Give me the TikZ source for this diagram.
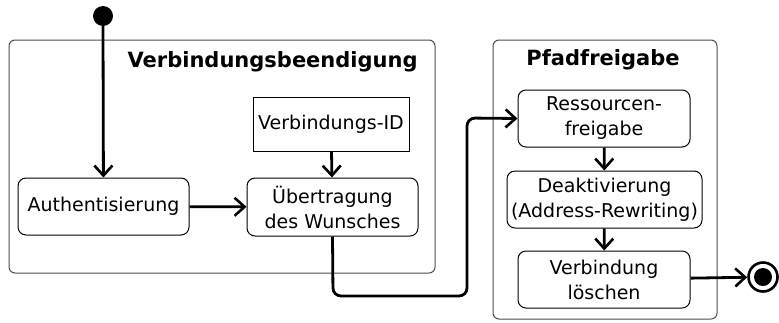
\documentclass[tikz,border=0pt]{standalone}
\usepackage{fontspec}
\setmainfont{DejaVu Sans}
\usetikzlibrary{arrows.meta, calc}

\tikzset{
	action/.style={draw, rounded corners=4pt, line width=0.5pt, align=center,
		inner sep=0pt, font=\fontsize{9.5}{12.5}\selectfont},
	objbox/.style={draw, line width=0.5pt, align=center, inner sep=0pt,
		font=\fontsize{9.5}{12.5}\selectfont},
	region/.style={draw=black!70, rounded corners=3pt, line width=0.5pt},
	flow/.style={line width=1.4pt, -{Straight Barb[length=5pt,width=9pt,line width=1.3pt]}},
	title/.style={font=\fontsize{10.5}{12}\selectfont\bfseries, inner sep=0pt}
}

\begin{document}
\begin{tikzpicture}[x=0.5pt, y=-0.5pt]
	\useasboundingbox (0,0) rectangle (779,322);

	% Bereiche
	\draw[region] (9,40) rectangle (435,273);
	\node[title, anchor=east] (t1) at (418,62) {Verbindungsbeendigung};
	\draw[region] (493,40) rectangle (717,319);
	\node[title] (t2) at (603,60) {Pfadfreigabe};

	% Start / Ende
	\fill (103,16) circle (10) coordinate (start);
	\node[circle, draw, line width=1.3pt, minimum size=14.5pt, inner sep=0pt] (ende) at (763,277) {};
	\fill (ende) circle (9);

	% Aktionen links
	\node[action, minimum width=85.5pt, minimum height=28.5pt] (auth) at (103.5,206.5) {Authentisierung};
	\node[action, minimum width=85.5pt, minimum height=29pt] (uebt) at (332.5,207) {Übertragung\\des Wunsches};
	\node[objbox, minimum width=78pt, minimum height=27pt] (vid) at (331,124) {Verbindungs-ID};

	% Aktionen rechts
	\node[action, minimum width=86pt, minimum height=28.5pt] (ress) at (604,118.5) {Ressourcen-\\freigabe};
	\node[action, minimum width=97.5pt, minimum height=28.5pt] (deak) at (604.5,199.5) {Deaktivierung\\(Address-Rewriting)};
	\node[action, minimum width=86pt, minimum height=28.5pt] (loesch) at (604,279.5) {Verbindung\\löschen};

	% Kanten
	\draw[flow] (103,26) -- (auth);
	\draw[flow] (auth) -- (uebt);
	\draw[flow] (vid) -- (uebt);
	\draw[flow, rounded corners=4pt] (uebt.south) -- (333,296) -- (467,296) -- (467,118) -- (ress.west);
	\draw[flow] (ress) -- (deak);
	\draw[flow] (deak) -- (loesch);
	\draw[flow] (loesch) -- (ende);

\end{tikzpicture}
\end{document}
